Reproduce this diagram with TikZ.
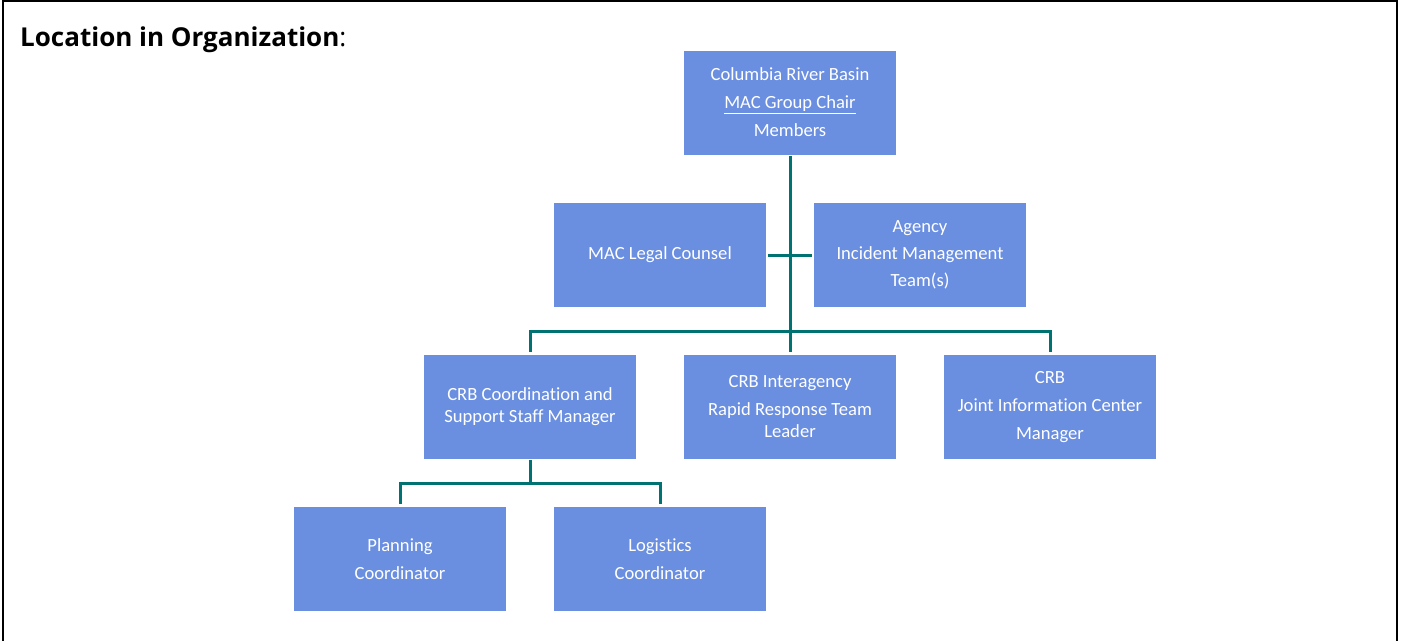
\documentclass[tikz,border=0pt]{standalone}
\usepackage{fontspec}
\setmainfont{Carlito}[RawFeature={-liga;-dlig;-clig}]
\newfontfamily\titlefont{Open Sans}
\begin{document}
\begin{tikzpicture}[x=1pt,y=-1pt,
  orgbox/.style={fill={rgb,255:red,106;green,142;blue,224}, minimum width=212pt, minimum height=104pt,
    inner sep=0pt, text=white, align=center, font=\fontsize{18.6}{22}\selectfont},
  conn/.style={draw={rgb,255:red,0;green,114;blue,114}, line width=3pt}]
\useasboundingbox (0,0) rectangle (1403,640);
% page frame (open at the bottom)
\draw[line width=2.5pt] (3,642) -- (3,1.2) -- (1397,1.2) -- (1397,642);
% heading
\node[anchor=base west, inner sep=0pt, font=\titlefont\fontsize{26}{30}\selectfont] (title) at (20,46)
  {{\bfseries Location in Organization}:};
% boxes
\node[orgbox] (chair) at (790,102.5) {Columbia River Basin\\[6pt]\underline{MAC Group Chair}\\[6pt]Members};
\node[orgbox] (legal) at (660,255) {MAC Legal Counsel};
\node[orgbox] (imt) at (920,255) {Agency\\[5pt]Incident Management\\[5pt]Team(s)};
\node[orgbox] (coord) at (530,407) {CRB Coordination and\\Support Staff Manager};
\node[orgbox] (rrt) at (790,407) {CRB Interagency\\[6pt]Rapid Response Team\\Leader};
\node[orgbox] (jic) at (1050,407) {CRB\\[6pt]Joint Information Center\\[6pt]Manager};
\node[orgbox] (plan) at (400,559) {Planning\\[6pt]Coordinator};
\node[orgbox] (logi) at (660,559) {Logistics\\[6pt]Coordinator};
% connectors
\coordinate (bar) at (790,331);
\coordinate (bar2) at (530,483);
\draw[conn] ([yshift=-1pt]chair.south) -- ([yshift=3pt]rrt.north);
\draw[conn] ([xshift=2pt]legal.east) -- ([xshift=-2pt]imt.west);
\draw[conn] ([yshift=3pt]coord.north) -- (coord.north |- bar) -- (jic.north |- bar) -- ([yshift=3pt]jic.north);
\draw[conn] ([yshift=-1pt]coord.south) -- (bar2);
\draw[conn] ([yshift=3pt]plan.north) -- (plan.north |- bar2) -- (logi.north |- bar2) -- ([yshift=3pt]logi.north);
\end{tikzpicture}
\end{document}
